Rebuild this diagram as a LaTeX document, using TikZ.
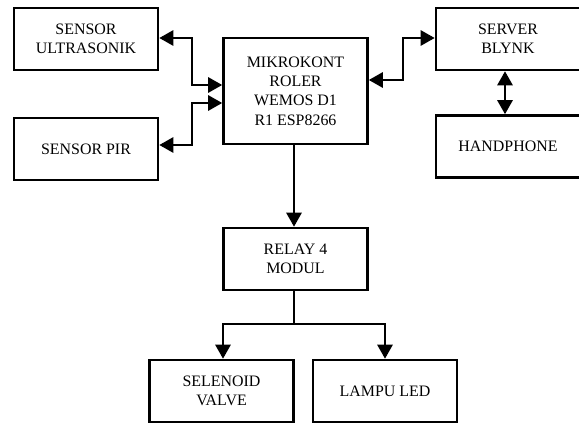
\documentclass[tikz,border=0pt]{standalone}
\usepackage{fontspec}
\setmainfont{Liberation Serif}
\usetikzlibrary{
    arrows.meta,
    calc
}
\tikzset{
  blok/.style={
    draw,
    line width=2.4pt,
    minimum width=4.32cm,
    minimum height=1.86cm,
    align=center,
    inner sep=1.5pt,
    font=\fontsize{13.6}{16.5}\selectfont
  },
  panah/.style={
    line width=0.9pt,
    -{Triangle[length=0.42cm,width=0.47cm]}
  },
  dua/.style={
    line width=0.9pt,
    {Triangle[length=0.42cm,width=0.47cm]}-{Triangle[length=0.42cm,width=0.47cm]}
  }
}

\begin{document}
\begin{tikzpicture}[x=0.03cm,y=-0.03cm]

    \useasboundingbox (0,0) rectangle (579,423);
    \clip (0,0) rectangle (579,423);

    %-------------------------
    % blok masukan
    %-------------------------
    \node[blok] (US) at (86,39) {SENSOR\\ULTRASONIK};
    \node[blok] (PIR) at (86,149) {SENSOR PIR};

    %-------------------------
    % mikrokontroler
    %-------------------------
    \node[blok,minimum height=3.18cm] (MCU) at (295.5,91) {MIKROKONT\\ROLER\\WEMOS D1\\R1 ESP8266};

    %-------------------------
    % server dan handphone (terpotong di kanan)
    %-------------------------
    \node[blok,draw=none,outer sep=0pt] (SRV) at (508,39) {SERVER\\BLYNK};
    \node[blok,draw=none,outer sep=0pt] (HP) at (508,146.5) {HANDPHONE};
    \draw[line width=2.4pt] (SRV.north west) rectangle ([xshift=0.4cm]SRV.south east);
    \draw[line width=2.4pt] (HP.north west) rectangle ([xshift=0.4cm]HP.south east);

    %-------------------------
    % relay dan keluaran
    %-------------------------
    \node[blok] (RLY) at (295.5,259) {RELAY 4\\MODUL};
    \node[blok] (SEL) at (221.5,391) {SELENOID\\VALVE};
    \node[blok] (LED) at (385,391) {LAMPU LED};

    \coordinate (cab) at (294,324);

    \draw[dua] (US.east |- 0,38) -- (192,38) |- (MCU.west |- 0,85);
    \draw[dua] (PIR.east |- 0,145) -- (192,145) |- (MCU.west |- 0,103);
    \draw[dua] (MCU.east |- 0,80) -- (403,80) |- ([xshift=-1.2pt]SRV.west |- 0,38);
    \draw[dua] ([yshift=-1.2pt]SRV.south -| 505,0) -- ([yshift=1.2pt]HP.north -| 505,0);
    \draw[panah] (MCU.south -| 294,0) -- (RLY.north -| 294,0);
    \draw[line width=0.9pt] (RLY.south -| cab) -- (cab);
    \draw[panah] (cab) -| (SEL.north -| 223,0);
    \draw[panah] (cab) -| (LED.north);

\end{tikzpicture}
\end{document}
